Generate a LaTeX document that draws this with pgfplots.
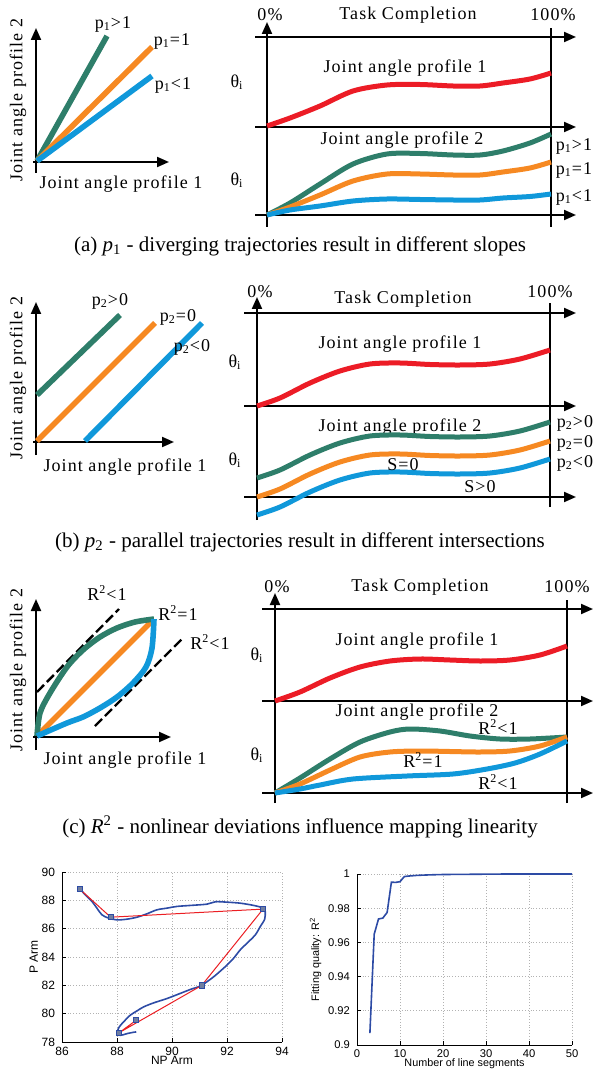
\documentclass[border=0pt]{standalone}
\usepackage{pgfplots}
\pgfplotsset{compat=1.18}
\usetikzlibrary{arrows.meta}
\usepackage{fontspec}
\setmainfont{Liberation Serif}
\setsansfont{Liberation Sans}
\newfontfamily\lab[LetterSpace=6]{Liberation Serif}
\definecolor{cgreen}{RGB}{46,126,106}
\definecolor{corange}{RGB}{246,137,34}
\definecolor{cblue}{RGB}{16,152,218}
\definecolor{cred}{RGB}{236,28,38}
\definecolor{mblue}{RGB}{45,75,165}
\definecolor{mred}{RGB}{235,30,35}
\definecolor{mfill}{RGB}{112,126,160}
\tikzset{
  lab/.style={font=\lab\fontsize{9}{10}\selectfont, inner sep=0pt},
  captxt/.style={font=\fontsize{10.5}{12}\selectfont, inner sep=0pt},
  arr/.style={black, line width=1pt, -{Triangle[length=6pt,width=5pt]}},
  axl/.style={black, line width=1pt},
  cv/.style={line width=2.5pt, smooth},
}
\begin{document}
\begin{tikzpicture}
\useasboundingbox (0,0) rectangle (297pt,534.5pt);
\begin{axis}[at={(0,0)}, anchor=south west, hide axis, scale only axis,
  width=297pt, height=534.5pt, xmin=0, xmax=594, ymin=0, ymax=1069,
  y dir=reverse, clip=false]
% ================= (a) left
\addplot[arr] coordinates {(36,173) (36,28)};
\addplot[arr] coordinates {(33,162) (169,162)};
\addplot[cgreen, line width=2.8pt] coordinates {(37,161) (107,36)};
\addplot[corange, line width=2.8pt] coordinates {(37,161) (152,47)};
\addplot[cblue, line width=2.8pt] coordinates {(37,161) (152,76)};
\node[lab] at (axis cs:113,24) {p\textsubscript{1}>1};
\node[lab] at (axis cs:172,41) {p\textsubscript{1}=1};
\node[lab] at (axis cs:173,85) {p\textsubscript{1}<1};
\node[lab, rotate=90] at (axis cs:18,100) {Joint angle profile 2};
\node[lab] at (axis cs:121,184) {Joint angle profile 1};
% ================= (a) right
\addplot[arr] coordinates {(255,37) (576,37)};
\addplot[arr] coordinates {(255,127) (576,127)};
\addplot[arr] coordinates {(255,215) (576,215)};
\addplot[arr] coordinates {(267,227) (267,22)};
\addplot[axl] coordinates {(551,227) (551,28)};
\node[lab] at (axis cs:270,15) {0\%};
\node[lab] at (axis cs:553,15) {100\%};
\node[lab] at (axis cs:408,15) {Task Completion};
\node[lab] at (axis cs:405,68) {Joint angle profile 1};
\node[lab] at (axis cs:402,140) {Joint angle profile 2};
\node[lab] at (axis cs:237,82) {θ\textsubscript{i}};
\node[lab] at (axis cs:237,180) {θ\textsubscript{i}};
\addplot[cred, cv] coordinates {(267,126) (290,118) (320,106) (353,91) (387,85) (420,84.5) (453,86) (480,86) (503,83) (530,79) (551,73)};
\addplot[cgreen, cv] coordinates {(267,215) (290,203) (320,184) (353,164) (387,154) (420,153.5) (453,155) (480,155) (503,151) (530,143) (551,134)};
\addplot[corange, cv] coordinates {(267,215) (290,207) (320,195) (353,181) (387,174) (420,174) (453,175) (480,175) (503,172) (530,168) (551,162)};
\addplot[cblue, cv] coordinates {(267,215) (290,210) (320,206) (353,201) (387,199) (420,199.5) (453,200) (480,200) (503,198) (530,196.5) (551,194)};
\node[lab] at (axis cs:574,146) {p\textsubscript{1}>1};
\node[lab] at (axis cs:574,170) {p\textsubscript{1}=1};
\node[lab] at (axis cs:574,197) {p\textsubscript{1}<1};
\node[captxt] at (axis cs:300,246) {(a) \textit{p}\textsubscript{1} - diverging trajectories result in different slopes};
% ================= (b) left
\addplot[arr] coordinates {(36,455) (36,302)};
\addplot[arr] coordinates {(33,442) (174,442)};
\addplot[cgreen, line width=2.8pt] coordinates {(37,395) (120,315)};
\addplot[corange, line width=2.8pt] coordinates {(37,441) (155,323)};
\addplot[cblue, line width=2.8pt] coordinates {(85,441) (202,323)};
\node[lab] at (axis cs:110,301) {p\textsubscript{2}>0};
\node[lab] at (axis cs:178,317) {p\textsubscript{2}=0};
\node[lab] at (axis cs:192,347) {p\textsubscript{2}<0};
\node[lab, rotate=90] at (axis cs:18,378) {Joint angle profile 2};
\node[lab] at (axis cs:125,467) {Joint angle profile 1};
% ================= (b) right
\addplot[arr] coordinates {(244,313) (576,313)};
\addplot[arr] coordinates {(244,406) (576,406)};
\addplot[arr] coordinates {(244,497) (576,497)};
\addplot[arr] coordinates {(257,520) (257,297)};
\addplot[axl] coordinates {(550,507) (550,303)};
\node[lab] at (axis cs:260,292) {0\%};
\node[lab] at (axis cs:550,292) {100\%};
\node[lab] at (axis cs:403,299) {Task Completion};
\node[lab] at (axis cs:400,344) {Joint angle profile 1};
\node[lab] at (axis cs:400,427) {Joint angle profile 2};
\node[lab] at (axis cs:235,362) {θ\textsubscript{i}};
\node[lab] at (axis cs:235,460) {θ\textsubscript{i}};
\addplot[cred, cv] coordinates {(257,406) (280,398) (310,383) (340,371) (370,364) (400,363) (430,364.5) (460,365) (490,364) (520,359) (550,350)};
\addplot[cgreen, cv] coordinates {(257,478) (280,470) (310,455) (340,443) (370,436) (400,435) (430,436.5) (460,437) (490,436) (520,431) (550,422)};
\addplot[corange, cv] coordinates {(257,497) (280,489) (310,474) (340,462) (370,455) (400,454) (430,455.5) (460,456) (490,455) (520,450) (550,441)};
\addplot[cblue, cv] coordinates {(257,515) (280,507) (310,492) (340,480) (370,473) (400,472) (430,473.5) (460,474) (490,473) (520,468) (550,459)};
\node[lab] at (axis cs:403,465) {S=0};
\node[lab] at (axis cs:480,487) {S>0};
\node[lab] at (axis cs:575,423) {p\textsubscript{2}>0};
\node[lab] at (axis cs:575,443) {p\textsubscript{2}=0};
\node[lab] at (axis cs:575,463) {p\textsubscript{2}<0};
\node[captxt] at (axis cs:300,542) {(b) \textit{p}\textsubscript{2} - parallel trajectories result in different intersections};
% ================= (c) left
\addplot[arr] coordinates {(36,750) (36,599)};
\addplot[arr] coordinates {(33,737) (171,737)};
\addplot[black, line width=1.2pt, dash pattern=on 5pt off 2pt] coordinates {(37,692) (119,609)};
\addplot[black, line width=1.2pt, dash pattern=on 5pt off 2pt] coordinates {(95,726) (183,638)};
\addplot[corange, line width=2.8pt] coordinates {(37,736) (154,619)};
\addplot[cgreen, line width=2.8pt, smooth] coordinates {(37,736) (40,713) (50,693) (67,667) (83,650) (100,637) (117,628) (135,622) (154,619)};
\addplot[cblue, line width=2.8pt, smooth] coordinates {(37,736) (67,723) (83,717) (100,708) (117,697) (133,683) (146,667) (152,648) (154,619)};
\node[lab] at (axis cs:107,593) {R\textsuperscript{2}<1};
\node[lab] at (axis cs:178,613) {R\textsuperscript{2}=1};
\node[lab] at (axis cs:210,642) {R\textsuperscript{2}<1};
\node[lab, rotate=90] at (axis cs:18,670) {Joint angle profile 2};
\node[lab] at (axis cs:125,760) {Joint angle profile 1};
% ================= (c) right
\addplot[arr] coordinates {(262,609) (593,609)};
\addplot[arr] coordinates {(262,701) (593,701)};
\addplot[arr] coordinates {(262,793) (593,793)};
\addplot[arr] coordinates {(275,803) (275,593)};
\addplot[axl] coordinates {(567,803) (567,600)};
\node[lab] at (axis cs:277,587) {0\%};
\node[lab] at (axis cs:567,587) {100\%};
\node[lab] at (axis cs:420,587) {Task Completion};
\node[lab] at (axis cs:417,641) {Joint angle profile 1};
\node[lab] at (axis cs:417,712) {Joint angle profile 2};
\node[lab] at (axis cs:257,655) {θ\textsubscript{i}};
\node[lab] at (axis cs:257,755) {θ\textsubscript{i}};
\addplot[cred, cv] coordinates {(275,701) (300,692) (330,678) (360,667) (390,661) (420,659) (450,660) (480,661) (510,660) (540,655) (567,646)};
\addplot[cgreen, cv] coordinates {(275,793) (300,778) (330,759) (360,742) (390,732) (410,729) (440,731) (470,736) (500,739) (530,739) (567,737)};
\addplot[corange, cv] coordinates {(275,793) (300,784) (330,770) (360,757) (390,752) (420,751) (450,751.5) (480,752) (510,751) (540,746) (567,737)};
\addplot[cblue, cv] coordinates {(275,793) (300,789) (320,785) (353,779) (407,776) (453,774) (487,769) (515,763) (540,754) (567,741)};
\node[lab] at (axis cs:498,727) {R\textsuperscript{2}<1};
\node[lab] at (axis cs:423,760) {R\textsuperscript{2}=1};
\node[lab] at (axis cs:498,782) {R\textsuperscript{2}<1};
\node[captxt] at (axis cs:300,827) {(c) \textit{R}\textsuperscript{2} - nonlinear deviations influence mapping linearity};
\end{axis}
% ================= bottom left
\begin{axis}[at={(31pt,13.5pt)}, anchor=south west, scale only axis,
  width=110pt, height=85pt, xmin=86, xmax=94, ymin=78, ymax=90,
  xtick={86,88,90,92,94}, ytick={78,80,82,84,86,88,90},
  axis lines*=left, axis line style={-, black, line width=0.5pt},
  grid=major, grid style={densely dotted, gray!60, line width=0.4pt},
  tick align=inside, major tick length=2pt, tick style={black, line width=0.4pt},
  /pgf/number format/assume math mode=true,
  tick label style={font=\sffamily\fontsize{6}{7}\selectfont},
  label style={font=\sffamily\fontsize{6}{7}\selectfont},
  xlabel={NP Arm}, ylabel={P Arm},
  xticklabel style={yshift=1pt}, xlabel style={yshift=6.5pt},
  ylabel style={yshift=-5pt}, clip=false]
\addplot[mblue, line width=0.8pt, smooth] coordinates {
(86.67,88.75) (86.85,88.39) (87.09,87.92) (87.27,87.45) (87.45,86.98) (87.70,86.74) (88.00,86.62)
(88.36,86.67) (88.73,86.81) (89.09,87.05) (89.45,87.33) (89.82,87.45) (90.18,87.57) (90.67,87.64)
(91.27,87.73) (91.58,87.90) (92.00,87.87) (92.48,87.80) (92.97,87.64) (93.33,87.45) (93.39,87.21)
(93.37,86.67) (93.21,86.15) (93.03,85.56) (92.79,85.09) (92.48,84.50) (92.24,83.91) (92.00,83.43)
(91.76,83.01) (91.52,82.61) (91.27,82.25) (91.03,81.95) (90.67,81.71) (90.30,81.43) (89.82,81.07)
(89.33,80.76) (88.97,80.48) (88.73,80.20) (88.48,79.89) (88.24,79.42) (88.08,79.06) (88.02,78.71)
(88.12,78.47) (88.36,78.59) (88.61,78.69) (88.70,78.71)};
\addplot[mred, line width=0.5pt, mark=square*, mark size=1.3pt,
  mark options={fill=mfill, draw=mblue, line width=0.4pt}] coordinates {
(86.64,88.80) (87.77,86.81) (93.31,87.38) (91.08,81.99) (88.08,78.66) (88.70,79.54)};
\end{axis}
% ================= bottom right
\begin{axis}[at={(178.5pt,12pt)}, anchor=south west, scale only axis,
  width=107.5pt, height=85.5pt, xmin=0, xmax=50, ymin=0.9, ymax=1,
  xtick={0,10,20,30,40,50}, ytick={0.9,0.92,0.94,0.96,0.98,1},
  axis lines*=left, axis line style={-, black, line width=0.5pt},
  grid=major, grid style={densely dotted, gray!60, line width=0.4pt},
  tick align=inside, major tick length=2pt, tick style={black, line width=0.4pt},
  /pgf/number format/assume math mode=true,
  tick label style={font=\sffamily\fontsize{5.6}{7}\selectfont},
  label style={font=\sffamily\fontsize{5.4}{6.5}\selectfont},
  xlabel={Number of line segments}, ylabel={Fitting quality: R\textsuperscript{2}},
  xticklabel style={yshift=1pt}, xlabel style={yshift=6.5pt},
  ylabel style={yshift=-3.5pt}, clip=false]
\addplot[mblue, line width=0.8pt] coordinates {
(3,0.907) (4,0.9648) (5,0.9737) (6,0.9742) (7,0.9775) (8,0.9952) (9,0.9951) (10,0.9955)
(11,0.9985) (12,0.9988) (13,0.9990) (14,0.9992) (15,0.9993) (17,0.9995) (20,0.9997)
(25,0.9998) (30,0.9999) (35,1) (40,1) (45,1) (50,1)};
\end{axis}
\end{tikzpicture}
\end{document}
